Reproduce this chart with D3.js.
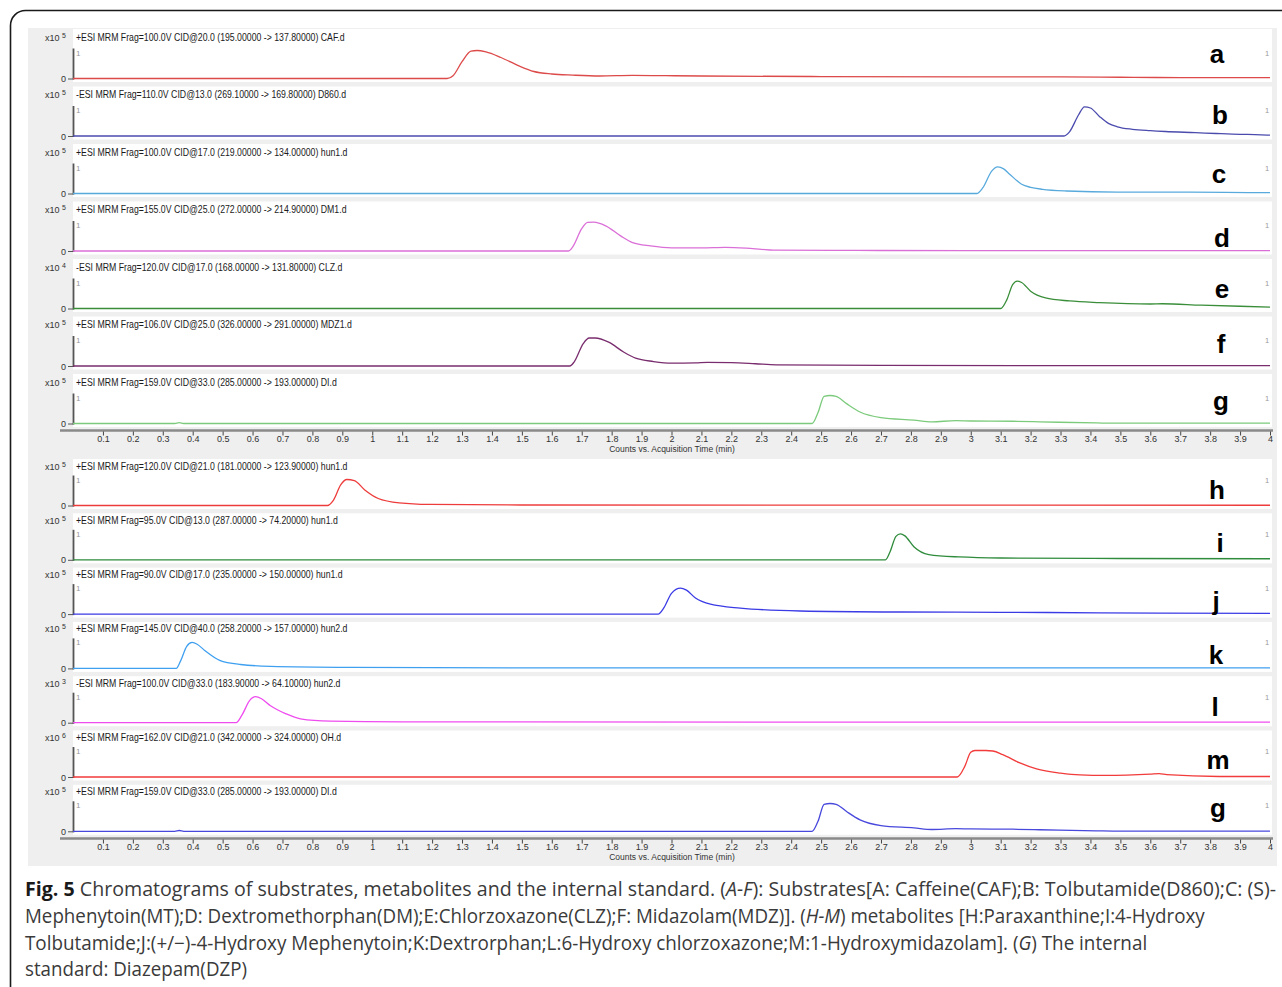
<!DOCTYPE html>
<html><head><meta charset="utf-8">
<script src="https://cdn.jsdelivr.net/npm/d3@7"></script>
<style>body{margin:0;background:#fff;} svg{display:block;}</style>
</head><body>
<svg id="c" width="1282" height="987"></svg>
<script>
// ---------------- DATA ----------------
const panelLetters = ["a","b","c","d","e","f","g","h","i","j","k","l","m","g"];
const panelHeaders = [
  "+ESI MRM Frag=100.0V CID@20.0 (195.00000 -> 137.80000) CAF.d",
  "-ESI MRM Frag=110.0V CID@13.0 (269.10000 -> 169.80000) D860.d",
  "+ESI MRM Frag=100.0V CID@17.0 (219.00000 -> 134.00000) hun1.d",
  "+ESI MRM Frag=155.0V CID@25.0 (272.00000 -> 214.90000) DM1.d",
  "-ESI MRM Frag=120.0V CID@17.0 (168.00000 -> 131.80000) CLZ.d",
  "+ESI MRM Frag=106.0V CID@25.0 (326.00000 -> 291.00000) MDZ1.d",
  "+ESI MRM Frag=159.0V CID@33.0 (285.00000 -> 193.00000) DI.d",
  "+ESI MRM Frag=120.0V CID@21.0 (181.00000 -> 123.90000) hun1.d",
  "+ESI MRM Frag=95.0V CID@13.0 (287.00000 -> 74.20000) hun1.d",
  "+ESI MRM Frag=90.0V CID@17.0 (235.00000 -> 150.00000) hun1.d",
  "+ESI MRM Frag=145.0V CID@40.0 (258.20000 -> 157.00000) hun2.d",
  "-ESI MRM Frag=100.0V CID@33.0 (183.90000 -> 64.10000) hun2.d",
  "+ESI MRM Frag=162.0V CID@21.0 (342.00000 -> 324.00000) OH.d",
  "+ESI MRM Frag=159.0V CID@33.0 (285.00000 -> 193.00000) DI.d"
];
const panelExponents = ["5","5","5","5","4","5","5","5","5","5","5","3","6","5"];
const timeTicks = [0.1,0.2,0.3,0.4,0.5,0.6,0.7,0.8,0.9,1,1.1,1.2,1.3,1.4,1.5,1.6,1.7,1.8,1.9,2,
                   2.1,2.2,2.3,2.4,2.5,2.6,2.7,2.8,2.9,3,3.1,3.2,3.3,3.4,3.5,3.6,3.7,3.8,3.9,4];
const xAxisTitle = "Counts vs. Acquisition Time (min)";

// traces: [time (min), counts (x10^n)]
const traceA = [[0,0],[1.25,0],[1.27,0.1],[1.30,0.6],[1.33,0.98],[1.35,1.0],[1.38,0.95],[1.43,0.75],[1.49,0.45],[1.54,0.25],[1.6,0.16],[1.67,0.12],[1.76,0.09],[1.87,0.11],[1.98,0.1],[2.1,0.09],[2.5,0.07],[3.0,0.06],[3.3,0.06],[3.5,0.045],[3.62,0.035],[4.0,0.03]];
const traceB = [[0,0],[3.31,0],[3.33,0.15],[3.36,0.75],[3.38,1.04],[3.40,1.0],[3.43,0.7],[3.46,0.45],[3.49,0.33],[3.54,0.24],[3.6,0.19],[3.65,0.16],[3.75,0.12],[3.82,0.09],[3.9,0.06],[3.95,0.05],[4.0,0.03]];
const traceC = [[0,0],[3.02,0],[3.04,0.2],[3.07,0.8],[3.09,0.95],[3.11,0.88],[3.13,0.69],[3.17,0.33],[3.2,0.22],[3.24,0.15],[3.32,0.09],[3.49,0.05],[3.7,0.05],[3.85,0.04],[4.0,0.03]];
const traceD = [[0,0],[1.655,0],[1.67,0.15],[1.7,0.8],[1.72,1.02],[1.74,1.03],[1.78,0.9],[1.83,0.54],[1.87,0.3],[1.93,0.18],[2.0,0.11],[2.1,0.11],[2.18,0.13],[2.25,0.1],[2.3,0.06],[2.34,0.03],[2.62,0.02],[3.0,0.01],[4.0,0.01]];
const traceE = [[0,0],[3.1,0],[3.12,0.3],[3.14,0.85],[3.155,0.98],[3.17,0.93],[3.2,0.62],[3.25,0.38],[3.33,0.27],[3.43,0.21],[3.6,0.16],[3.64,0.17],[3.77,0.12],[3.9,0.08],[4.0,0.05]];
const traceF = [[0,0],[1.66,0],[1.675,0.15],[1.705,0.8],[1.725,1.0],[1.745,1.0],[1.79,0.85],[1.84,0.5],[1.88,0.28],[1.94,0.16],[2.0,0.1],[2.08,0.11],[2.12,0.13],[2.2,0.12],[2.28,0.08],[2.35,0.04],[2.7,0.02],[4.0,0.01]];
const traceG = [[0,0],[0.34,0],[0.355,0.03],[0.37,0],[2.47,0],[2.49,0.4],[2.51,0.97],[2.53,1.0],[2.55,0.97],[2.585,0.71],[2.63,0.41],[2.7,0.21],[2.81,0.12],[2.87,0.06],[2.95,0.1],[3.0,0.09],[3.14,0.08],[3.23,0.06],[3.42,0.02],[3.5,0.01],[4.0,0.01]];
const traceH = [[0,0],[0.85,0],[0.87,0.2],[0.895,0.8],[0.915,1.0],[0.94,0.96],[0.975,0.6],[1.02,0.27],[1.09,0.1],[1.19,0.04],[1.5,0.02],[4.0,0.01]];
const traceI = [[0,0],[2.715,0],[2.73,0.3],[2.75,0.9],[2.765,1.0],[2.78,0.92],[2.81,0.5],[2.86,0.2],[2.96,0.11],[3.1,0.07],[3.5,0.05],[4.0,0.04]];
const traceJ = [[0,0],[1.955,0],[1.975,0.25],[2.0,0.8],[2.03,1.0],[2.05,0.92],[2.08,0.62],[2.13,0.38],[2.23,0.23],[2.43,0.12],[2.76,0.08],[3.1,0.07],[3.43,0.05],[4.0,0.03]];
const traceK = [[0,0],[0.345,0],[0.36,0.3],[0.38,0.85],[0.398,1.0],[0.415,0.93],[0.44,0.69],[0.49,0.31],[0.56,0.15],[0.66,0.08],[0.93,0.04],[1.5,0.02],[4.0,0.02]];
const traceL = [[0,0],[0.545,0],[0.565,0.3],[0.59,0.85],[0.61,1.0],[0.63,0.92],[0.66,0.65],[0.71,0.35],[0.76,0.15],[0.86,0.06],[1.1,0.03],[4.0,0.02]];
const traceM = [[0,0],[2.955,0],[2.98,0.41],[3.0,0.95],[3.014,1.02],[3.05,1.02],[3.074,1.0],[3.107,0.86],[3.164,0.54],[3.22,0.31],[3.3,0.15],[3.365,0.08],[3.45,0.06],[3.6,0.11],[3.63,0.13],[3.655,0.09],[3.83,0.02],[4.0,0.02]];
const traceG2 = [[0,0],[0.34,0],[0.355,0.03],[0.37,0],[2.47,0],[2.49,0.4],[2.51,1.04],[2.53,1.07],[2.55,1.04],[2.585,0.76],[2.63,0.44],[2.7,0.22],[2.81,0.13],[2.87,0.07],[2.95,0.1],[3.0,0.09],[3.14,0.08],[3.23,0.06],[3.42,0.02],[3.5,0.01],[4.0,0.01]];
const traces = [traceA,traceB,traceC,traceD,traceE,traceF,traceG,traceH,traceI,traceJ,traceK,traceL,traceM,traceG2];

const captionLines = [
  [["b","Fig. 5"],["n"," Chromatograms of substrates, metabolites and the internal standard. ("],["i","A-F"],["n","): Substrates[A: Caffeine(CAF);B: Tolbutamide(D860);C: (S)-"]],
  [["n","Mephenytoin(MT);D: Dextromethorphan(DM);E:Chlorzoxazone(CLZ);F: Midazolam(MDZ)]. ("],["i","H-M"],["n",") metabolites [H:Paraxanthine;I:4-Hydroxy"]],
  [["n","Tolbutamide;J:(+/\u2212)-4-Hydroxy Mephenytoin;K:Dextrorphan;L:6-Hydroxy chlorzoxazone;M:1-Hydroxymidazolam]. ("],["i","G"],["n",") The internal"]],
  [["n","standard: Diazepam(DZP)"]]
];

// ---------------- STYLE / LAYOUT ----------------
const COLORS = ["#dd4a4a","#4b4bae","#58aadd","#db6fd8","#3a8e3a","#7a2d6e","#7ccb7c",
                "#ee3c3c","#2f8c3c","#3b3be6","#40a0f0","#ef4cef","#f23b3b","#4848dd"];
const LETTER_DY = [-16,-12,-11,-4,-10.5,-13,-14,-6.5,-8,-4,-4,-7,-8,-14];
const LETTER_X  = [1217,1220,1219,1222,1222,1221,1221,1217,1220,1216,1216,1215,1218,1218];
const GROUPS = [
  {first:0,count:7,top0:29,step:57.5,boxH:53,baseOff:49.5,unit:28,headOff:11.5,axisY:430.5},
  {first:7,count:7,top0:459,step:54.3,boxH:50,baseOff:46.5,unit:26,headOff:10.5,axisY:838.5}
];
const CAP_WIDTH = [1252,1180,1123,222];
const CAP_Y = [896,923,950,976];
const FONT = "'Liberation Sans', Arial, sans-serif";

const W=1282,H=987;
const svg=d3.select('#c');
const x=d3.scaleLinear().domain([0,4]).range([73,1270]);

svg.append('rect').attr('width',W).attr('height',H).attr('fill','#fff');
svg.append('rect').attr('x',28).attr('y',28).attr('width',1249).attr('height',838).attr('fill','#efefef');

// header scale factor (narrow instrument font)
const probe = svg.append('text').attr('font-family',FONT).attr('font-size',10).text(panelHeaders[0]);
const hScale = 269/probe.node().getComputedTextLength();
probe.remove();

GROUPS.forEach(G=>{
  for(let k=0;k<G.count;k++){
    const i=G.first+k;
    const top=G.top0+k*G.step;
    const base=top+G.baseOff;
    const y=d3.scaleLinear().domain([0,1]).range([base,base-G.unit]);
    const g=svg.append('g');
    g.append('rect').attr('x',73).attr('y',top).attr('width',1199).attr('height',G.boxH).attr('fill','#fff');
    // header
    g.append('text').attr('transform',`translate(76,${top+G.headOff}) scale(${hScale},1)`)
      .attr('font-family',FONT).attr('font-size',10).attr('fill','#1a1a1a').text(panelHeaders[i]);
    const xt=g.append('text').attr('x',45).attr('y',top+G.headOff).attr('font-family',FONT)
      .attr('font-size',9).attr('fill','#333');
    xt.append('tspan').text('x10');
    xt.append('tspan').attr('dx',2.5).attr('dy',-3).attr('font-size',7).text(panelExponents[i]);
    // y axis
    g.append('line').attr('x1',73.5).attr('x2',73.5).attr('y1',base+1).attr('y2',base-30)
      .attr('stroke','#555').attr('stroke-width',1.8);
    g.append('line').attr('x1',68).attr('x2',73.5).attr('y1',base+0.5).attr('y2',base+0.5)
      .attr('stroke','#555').attr('stroke-width',1);
    g.append('text').attr('x',66).attr('y',base+3.5).attr('text-anchor','end').attr('font-family',FONT)
      .attr('font-size',9).attr('fill','#333').text('0');
    g.append('text').attr('x',76).attr('y',base-23).attr('font-family',FONT)
      .attr('font-size',8).attr('fill','#999').text('1');
    g.append('text').attr('x',1265).attr('y',base-23).attr('font-family',FONT)
      .attr('font-size',7.5).attr('fill','#999').text('1');
    // trace
    const line=d3.line().x(d=>x(d[0])).y(d=>y(d[1])).curve(d3.curveMonotoneX);
    g.append('path').datum(traces[i]).attr('d',line).attr('fill','none')
      .attr('stroke',COLORS[i]).attr('stroke-width',1.3);
    // letter
    g.append('text').attr('x',LETTER_X[i]).attr('y',base+LETTER_DY[i]).attr('text-anchor','middle')
      .attr('font-family',"Arial, 'Liberation Sans', sans-serif").attr('font-weight','bold')
      .attr('font-size',26).attr('fill','#000').text(panelLetters[i]);
  }
  // x axis
  const ax=svg.append('g').attr('transform',`translate(0,${G.axisY})`);
  ax.append('line').attr('x1',60).attr('x2',1273).attr('y1',0).attr('y2',0)
    .attr('stroke','#8a8a8a').attr('stroke-width',2.5);
  const axis=d3.axisBottom(x).tickValues(timeTicks).tickSize(4).tickSizeOuter(0).tickFormat(d=>String(d));
  const axg=ax.append('g').call(axis);
  axg.select('.domain').remove();
  axg.selectAll('.tick line').attr('stroke','#444').attr('transform','translate(0,1)');
  axg.selectAll('.tick text').attr('font-family',FONT).attr('font-size',9).attr('fill','#333').attr('y',5).attr('dy','0.71em');
  ax.append('text').attr('x',672).attr('y',21).attr('text-anchor','middle').attr('font-family',FONT)
    .attr('font-size',8.5).attr('fill','#333').text(xAxisTitle);
});

// caption
captionLines.forEach((parts,li)=>{
  const t=svg.append('text').attr('x',0).attr('y',0).attr('font-family',"'Open Sans', sans-serif")
    .attr('font-size',19.5).attr('fill','#3a3a3a');
  parts.forEach(([s,txt])=>{
    const sp=t.append('tspan').text(txt);
    if(s==='b') sp.attr('font-weight','bold').attr('fill','#1a1a1a');
    if(s==='i') sp.attr('font-style','italic');
  });
  const w=t.node().getComputedTextLength();
  t.attr('transform',`translate(25,${CAP_Y[li]}) scale(${CAP_WIDTH[li]/w},1)`);
});

// frame
svg.append('rect').attr('x',10.5).attr('y',10.5).attr('width',1320).attr('height',1020).attr('rx',15)
  .attr('fill','none').attr('stroke','#1a1a1a').attr('stroke-width',1.6);
</script></body></html>
